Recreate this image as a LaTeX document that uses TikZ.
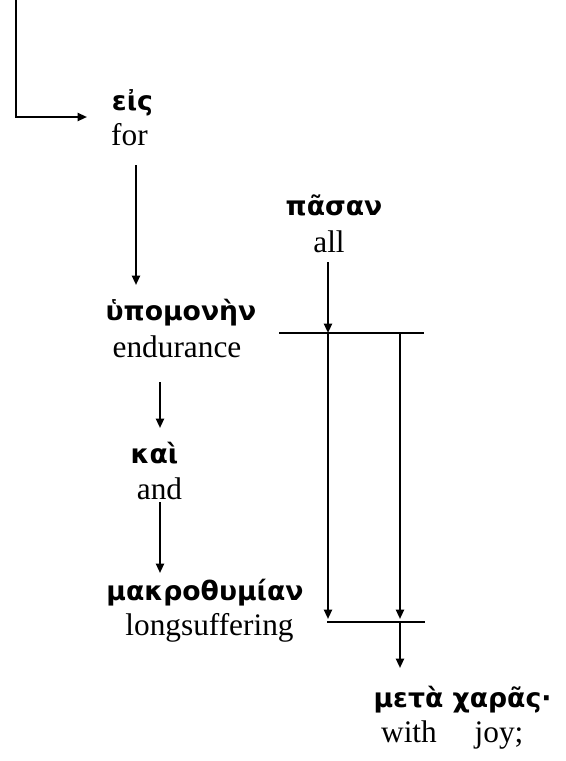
\documentclass[tikz,border=0pt]{standalone}
\usepackage{fontspec}
\setmainfont{Liberation Serif}
\newfontfamily\grfont{DejaVu Sans}
\usetikzlibrary{arrows.meta}
\tikzset{
  gr/.style={inner sep=0pt, anchor=base, font=\grfont\bfseries\fontsize{20}{24}\selectfont},
  en/.style={inner sep=0pt, anchor=base, font=\fontsize{23.5}{27}\selectfont},
  conn/.style={line width=1.5pt},
  arr/.style={conn, -{Triangle[length=7pt,width=6pt]}}
}
\begin{document}
\begin{tikzpicture}[x=0.75pt,y=-0.75pt]
\useasboundingbox (0,0) rectangle (566,761);
% words
\node[gr] (eis) at (132.5,110) {εἰς};
\node[en] (for) at (129.5,145) {for};
\node[gr] (hyp) at (181,320) {ὑπομονὴν};
\node[en] (endu) at (177,357) {endurance};
\node[gr] (pasan) at (334,215) {πᾶσαν};
\node[en] (all) at (329,252) {all};
\node[gr] (kai) at (154.5,463) {καὶ};
\node[en] (and) at (159.5,499) {and};
\node[gr] (makro) at (205,600) {μακροθυμίαν};
\node[en] (long) at (209.5,635) {longsuffering};
\node[gr] (meta) at (462.5,707) {μετὰ χαρᾶς·};
\node[en] (with) at (409,742) {with};
\node[en] (joy) at (499,742) {joy;};
% connector points
\coordinate (top) at (16,0);
\coordinate (eisin) at (87,117);
\coordinate (fora) at (136,165);
\coordinate (hypin) at (136,285);
\coordinate (endua) at (160,382);
\coordinate (kaiin) at (160,428);
\coordinate (anda) at (160,502);
\coordinate (makroin) at (160,573);
\coordinate (alla) at (328,262);
\coordinate (barL) at (279,333);
\coordinate (barR) at (424,333);
\coordinate (j1) at (328,333);
\coordinate (j2) at (400,333);
\coordinate (b1) at (328,619);
\coordinate (b2) at (400,619);
\coordinate (lowL) at (327,622);
\coordinate (lowR) at (425,622);
\coordinate (lowJ) at (400,622);
\coordinate (metain) at (400,668);
% connectors
\draw[arr] (top) |- (eisin);
\draw[arr] (fora) -- (hypin);
\draw[arr] (endua) -- (kaiin);
\draw[arr] (anda) -- (makroin);
\draw[arr] (alla) -- (j1);
\draw[conn] (barL) -- (barR);
\draw[arr] (j1) -- (b1);
\draw[arr] (j2) -- (b2);
\draw[conn] (lowL) -- (lowR);
\draw[arr] (lowJ) -- (metain);
\end{tikzpicture}
\end{document}
